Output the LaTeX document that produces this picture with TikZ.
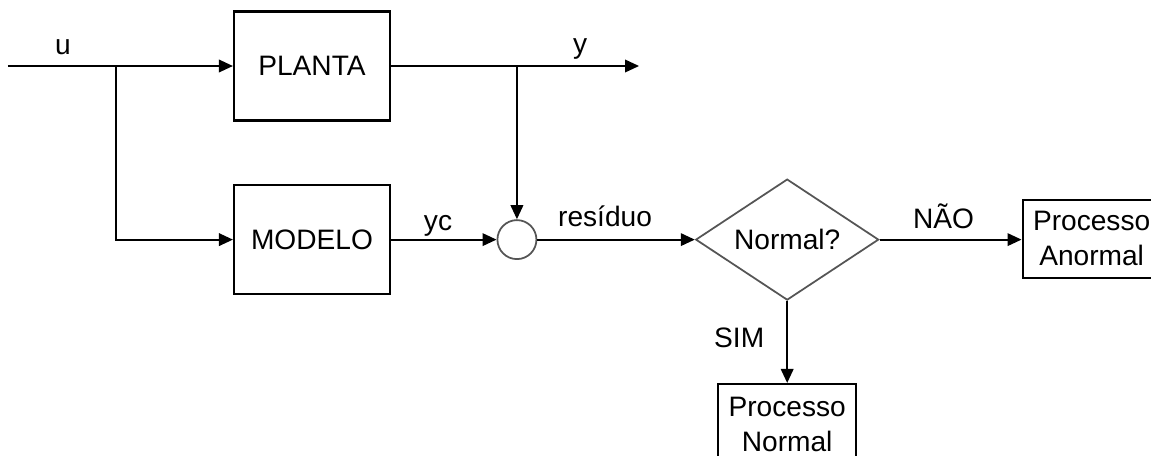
\documentclass[tikz,border=0pt]{standalone}
\usepackage{fontspec}
\setmainfont{Liberation Sans}
\usepackage{xcolor}
\usepackage{tikz}
\usetikzlibrary{shapes.geometric, arrows.meta, positioning}
\definecolor{edgegray}{HTML}{555555}

\begin{document}
\begin{tikzpicture}[
    font=\fontsize{16}{20}\selectfont,
    block/.style={rectangle, draw=black, line width=1.2pt, minimum width=3.12cm, minimum height=2.18cm, text centered, inner sep=0pt},
    outcome/.style={rectangle, draw=black, line width=1.2pt, minimum width=2.76cm, minimum height=1.56cm, align=center, inner sep=0pt},
    decision/.style={diamond, draw=edgegray, line width=1pt, minimum width=3.66cm, minimum height=2.42cm, aspect=1.5, inner sep=0pt},
    sumnode/.style={circle, draw=edgegray, line width=1pt, minimum size=0.78cm, inner sep=0pt},
    arrow/.style={line width=1.1pt, -{Triangle[length=0.28cm, width=0.25cm]}},
    tag/.style={anchor=base, inner sep=0pt}
]
    \useasboundingbox (0,0) rectangle (23.02,-9.12);

    % Plant and model (left column)
    \node [block] (plant) at (6.24,-1.32) {PLANTA};
    \node [block, below=1.25cm of plant] (model) {MODELO};
    \coordinate [left=4.5cm of plant.west] (uin);
    \coordinate [left=2.34cm of plant.west] (usplit);
    \coordinate [right=4.96cm of plant.east] (yout);

    % Residual and test (middle)
    \node [sumnode, right=2.11cm of model] (sum) {};
    \node [decision, right=3.15cm of sum] (test) {Normal?};

    % Outcomes (right)
    \node [outcome, right=2.84cm of test, yshift=0.02cm] (abnormal) {Processo\\Anormal};
    \node [outcome, below=1.64cm of test, minimum height=1.62cm] (normal) {Processo\\Normal};

    % Connections
    \draw [arrow] (uin) -- node [tag, pos=0.244, yshift=0.24cm] (ulabel) {u} (plant);
    \draw [arrow] (usplit) |- (model);
    \draw [arrow] (plant) -- node [tag, pos=0.762, yshift=0.25cm] (ylabel) {y} (yout);
    \draw [arrow] (sum |- plant) -- (sum);
    \draw [arrow] (model) -- node [tag, pos=0.445, yshift=0.18cm] (yclabel) {yc} (sum);
    \draw [arrow] (sum) -- node [tag, pos=0.43, yshift=0.26cm] (reslabel) {resíduo} (test);
    \draw [arrow] (test) -- node [tag, pos=0.45, yshift=0.23cm] (nolabel) {NÃO} (abnormal.west |- test);
    \draw [arrow] (test) -- node [tag, anchor=base east, pos=0.57, xshift=-0.44cm] (yeslabel) {SIM} (normal);
\end{tikzpicture}
\end{document}
